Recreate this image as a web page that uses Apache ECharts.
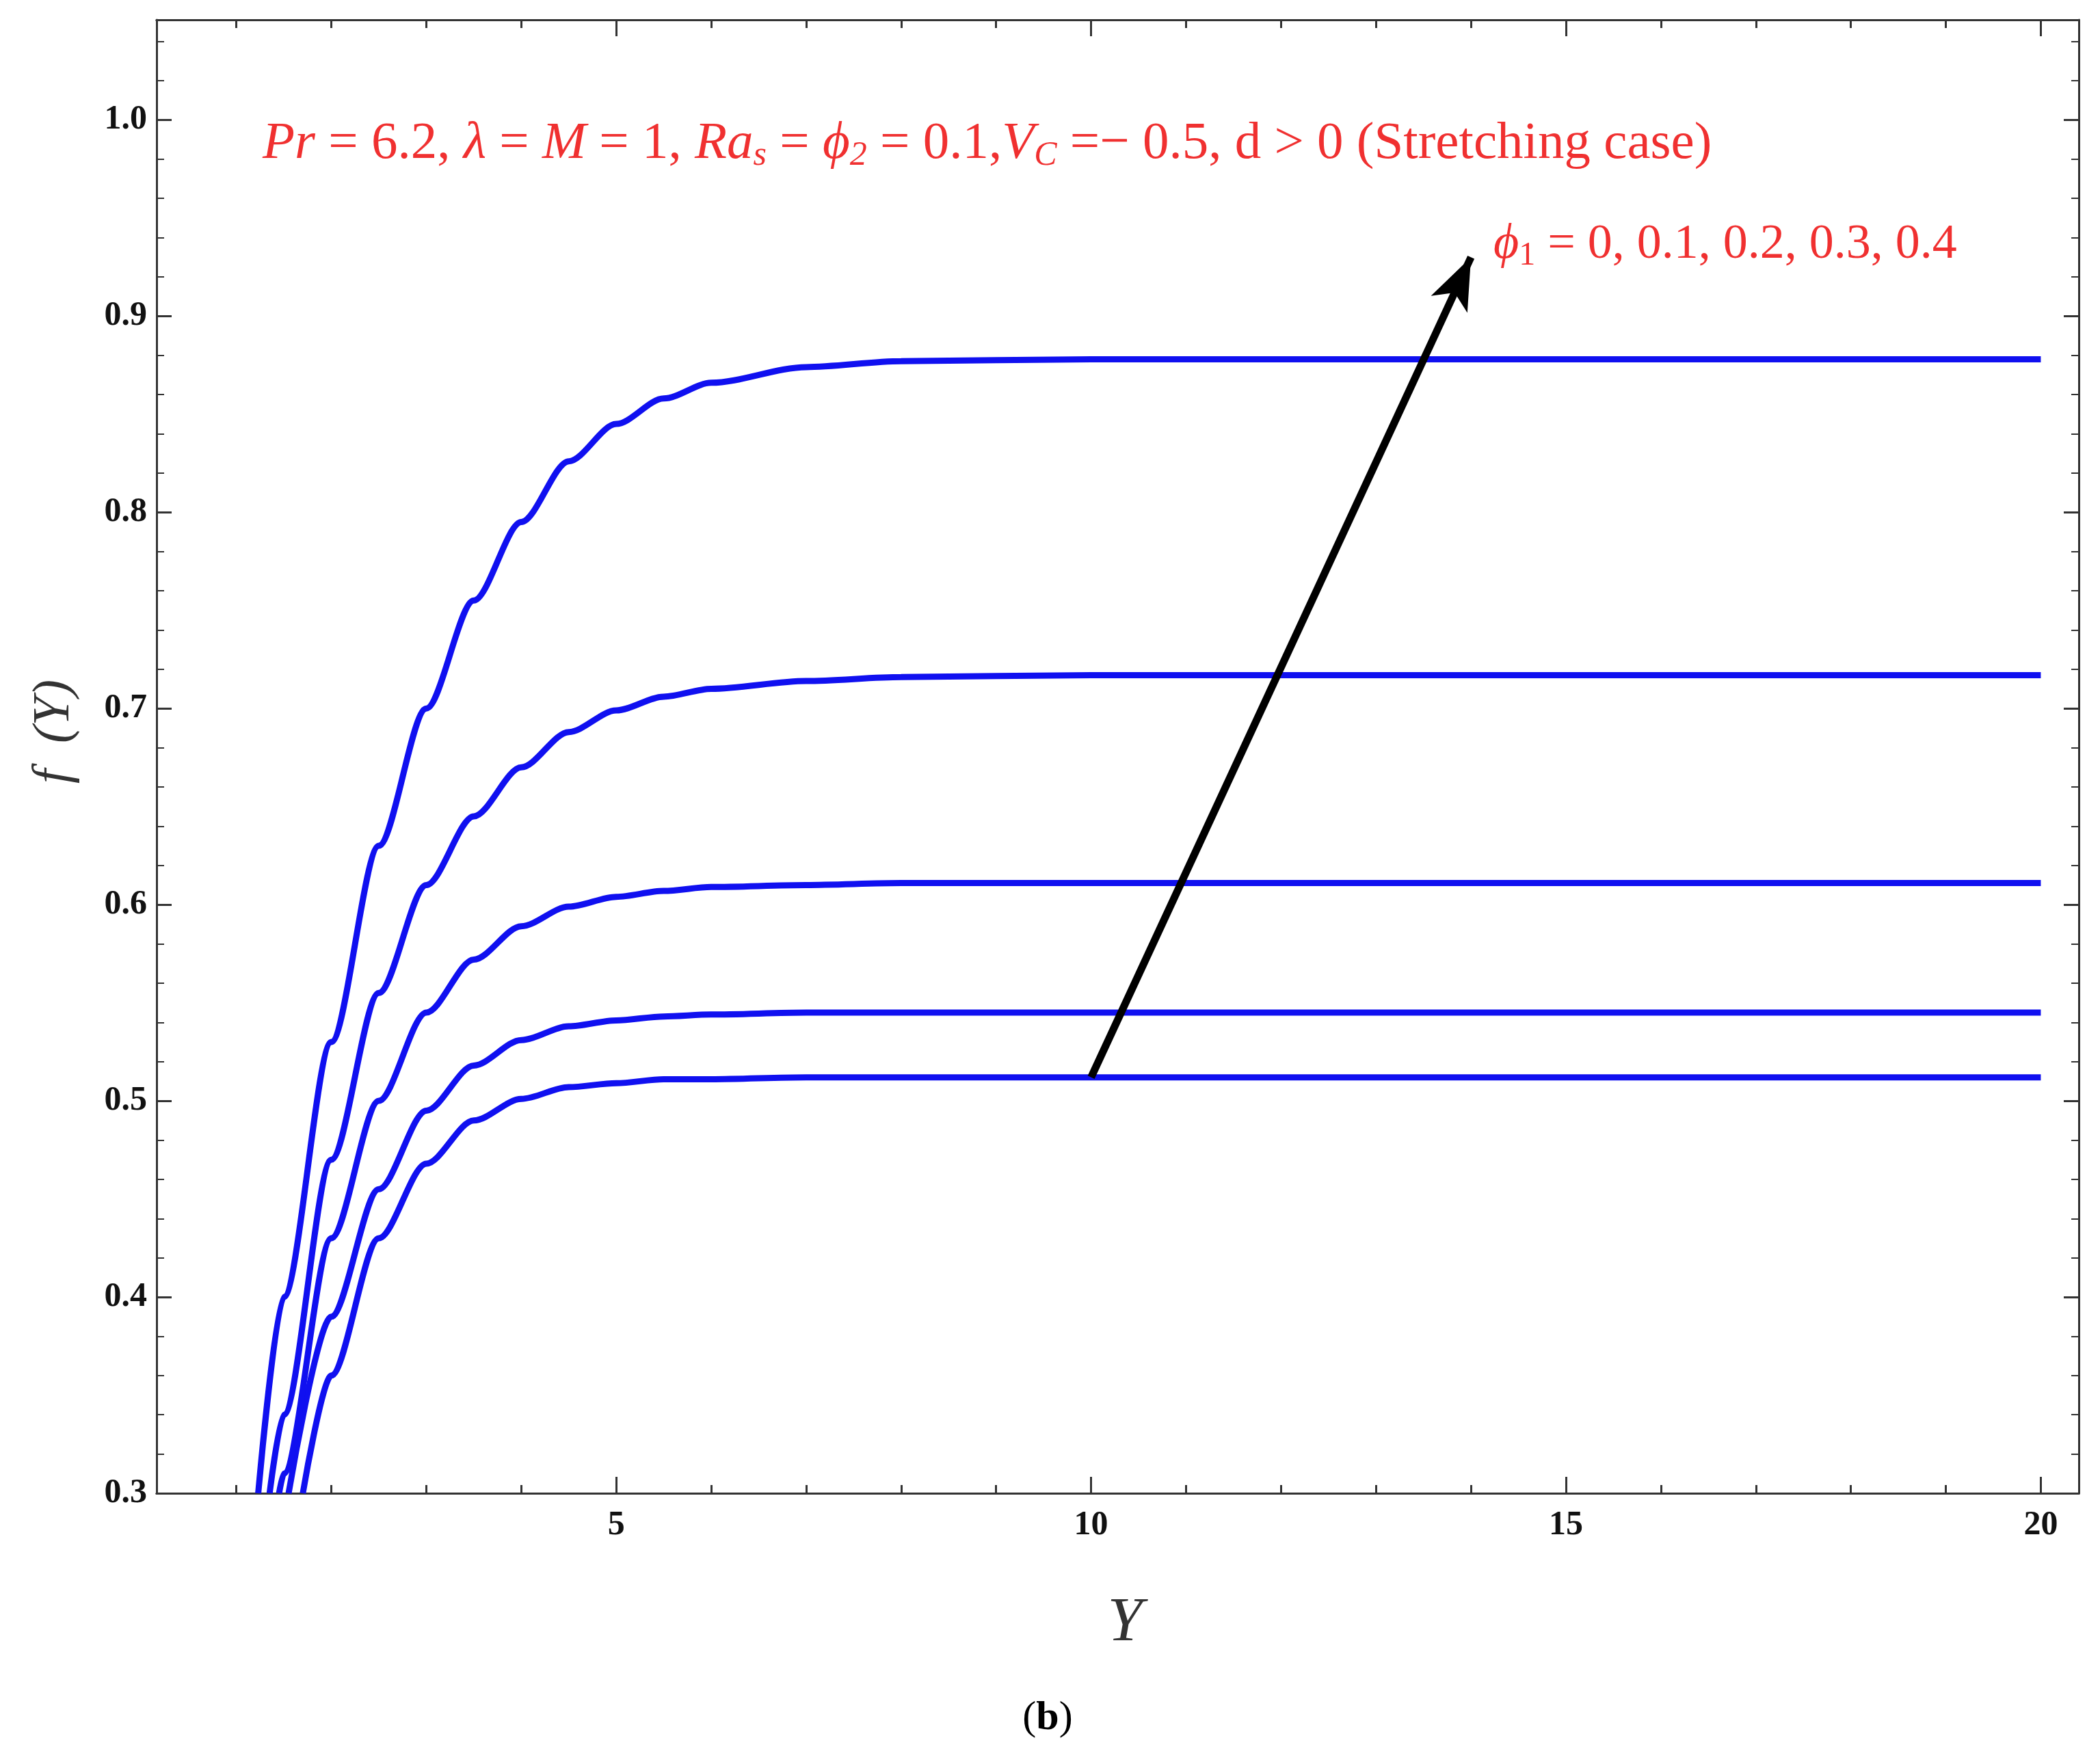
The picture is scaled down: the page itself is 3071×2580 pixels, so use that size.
<!DOCTYPE html>
<html>
<head>
<meta charset="utf-8">
<script src="https://cdn.jsdelivr.net/npm/echarts@6/dist/echarts.min.js"></script>
<style>html,body{margin:0;padding:0;background:#fff}#c{width:3071px;height:2580px}</style>
</head>
<body>
<div id="c"></div>
<script>
// profiles f(Y) for phi1 = 0 .. 0.4 (null = below the axis)
var startX = [1.7, 1.55, 1.45, 1.35, 1.23];
var xs = [1.5, 2, 2.5, 3, 3.5, 4, 4.5, 5, 5.5, 6, 7, 8, 10, 20];
var curve1 = [null, 0.36, 0.43, 0.468, 0.49, 0.501, 0.507, 0.509, 0.511, 0.511, 0.512, 0.512, 0.512, 0.512];
var curve2 = [null, 0.39, 0.455, 0.495, 0.518, 0.531, 0.538, 0.541, 0.543, 0.544, 0.545, 0.545, 0.545, 0.545];
var curve3 = [0.31, 0.43, 0.50, 0.545, 0.572, 0.589, 0.599, 0.604, 0.607, 0.609, 0.610, 0.611, 0.611, 0.611];
var curve4 = [0.34, 0.47, 0.555, 0.61, 0.645, 0.67, 0.688, 0.699, 0.706, 0.710, 0.714, 0.716, 0.717, 0.717];
var curve5 = [0.40, 0.53, 0.63, 0.70, 0.755, 0.795, 0.826, 0.845, 0.858, 0.866, 0.874, 0.877, 0.878, 0.878];
var xTicks = [5, 10, 15, 20];
var xMinorTicks = [1,2,3,4,5,6,7,8,9,10,11,12,13,14,15,16,17,18,19,20];
var arrowFrom = [10, 0.512], arrowTo = [14, 0.93];

var myChart = echarts.init(document.getElementById('c'));
var blue = '#1010f0';
var serif = 'Liberation Serif';

function mk(start, vals) {
    var d = [[start, 0.3]];
    for (var i = 0; i < xs.length; i++) {
        if (vals[i] !== null && xs[i] > start) d.push([xs[i], vals[i]]);
    }
    return d;
}
var all = [curve1, curve2, curve3, curve4, curve5];
var series = all.map(function (c, i) {
    return {
        type: 'line', smooth: 0.3, smoothMonotone: 'x', symbol: 'none', xAxisIndex: 0, yAxisIndex: 0,
        lineStyle: {color: blue, width: 9},
        data: mk(startX[i], c)
    };
});
series.push({
    type: 'line', symbol: 'none', data: [], xAxisIndex: 0, yAxisIndex: 0,
    markLine: {
        silent: true, symbol: ['none', 'arrow'], symbolSize: [44, 76],
        label: {show: false},
        lineStyle: {color: '#000', width: 11, type: 'solid'},
        data: [[{coord: arrowFrom}, {coord: arrowTo}]]
    }
});

function xAx(pos, vals, len, labels) {
    return {
        type: 'value', min: 0.16, max: 20.4, position: pos,
        axisLine: {show: true, lineStyle: {color: '#333', width: 3}},
        axisTick: {show: true, inside: true, length: len, customValues: vals, lineStyle: {color: '#333', width: 3}},
        axisLabel: {show: labels, customValues: vals, fontFamily: serif, fontWeight: 'bold', fontSize: 50, color: '#111', margin: 22},
        splitLine: {show: false}
    };
}
function yAx(pos, labels) {
    return {
        type: 'value', min: 0.3, max: 1.051, interval: 0.1, position: pos,
        axisLine: {show: true, lineStyle: {color: '#333', width: 3}},
        axisTick: {show: true, inside: true, length: 22, lineStyle: {color: '#333', width: 3}},
        minorTick: {show: true, splitNumber: 5, length: 11, lineStyle: {color: '#333', width: 2}},
        axisLabel: {show: labels, showMaxLabel: false, fontFamily: serif, fontWeight: 'bold', fontSize: 50, color: '#111', margin: 14,
            formatter: function (v) { return v.toFixed(1); }},
        splitLine: {show: false}
    };
}

option = {
    animation: false,
    grid: {left: 229, right: 31, top: 29, bottom: 396},
    xAxis: [xAx('bottom', xTicks, 24, true), xAx('bottom', xMinorTicks, 12, false),
            xAx('top', xTicks, 24, false), xAx('top', xMinorTicks, 12, false)],
    yAxis: [yAx('left', true), yAx('right', false)],
    series: series,
    graphic: [
        {type: 'text', left: 384, top: 172, style: {
            text: '{i|Pr} = 6.2, {i|λ} = {i|M} = 1, {i|Ra}{s|s} = {i|ϕ}{s|2} = 0.1,{i|V}{s|C} =− 0.5, d > 0 (Stretching case)',
            fill: '#f03030', font: '77px "Liberation Serif"',
            rich: {i: {fontStyle: 'italic', fontSize: 77, fontFamily: serif, fill: '#f03030'},
                   s: {fontStyle: 'italic', fontSize: 50, fontFamily: serif, fill: '#f03030', padding: [34, 0, 0, 0]}}
        }},
        {type: 'text', left: 2184, top: 322, style: {
            text: '{i|ϕ}{s|1} = 0, 0.1, 0.2, 0.3, 0.4',
            fill: '#f03030', font: '72px "Liberation Serif"',
            rich: {i: {fontStyle: 'italic', fontSize: 72, fontFamily: serif, fill: '#f03030'},
                   s: {fontSize: 48, fontFamily: serif, fill: '#f03030', padding: [32, 0, 0, 0]}}
        }},
        {type: 'text', x: 80, y: 1070, rotation: Math.PI / 2, style: {
            text: 'f  (Y)', fill: '#333', font: 'italic 76px "Liberation Serif"', align: 'center', verticalAlign: 'middle'
        }},
        {type: 'text', x: 1645, y: 2375, style: {
            text: 'Y', fill: '#333', font: 'italic 92px "Liberation Serif"', align: 'center', verticalAlign: 'middle'
        }},
        {type: 'text', x: 1532, y: 2513, style: {
            text: '({b|b})', fill: '#000', font: '60px "Liberation Serif"', align: 'center', verticalAlign: 'middle',
            rich: {b: {fontWeight: 'bold', fontSize: 60, fontFamily: serif, fill: '#000'}}
        }}
    ]
};
myChart.setOption(option);
</script>
</body>
</html>
